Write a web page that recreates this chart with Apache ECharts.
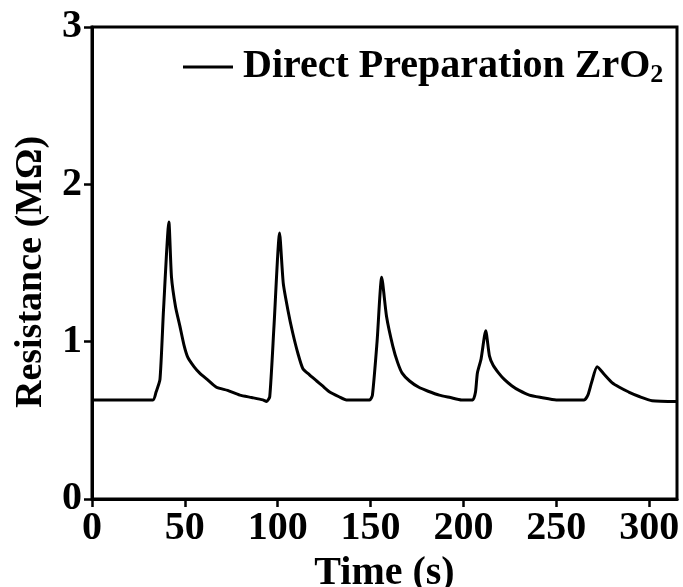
<!DOCTYPE html>
<html>
<head>
<meta charset="utf-8">
<script src="https://cdn.jsdelivr.net/npm/echarts@6/dist/echarts.min.js"></script>
<style>
  html, body { margin: 0; padding: 0; background: #fff; }
  #chart { width: 683px; height: 587px; }
</style>
</head>
<body>
<div id="chart"></div>
<script>
// time (s) and resistance (MOhm)
var timeS = [0, 32.8, 34.5, 36.6, 38.5, 41.4, 42.8, 45, 47.3, 49.5, 51.6, 55, 58, 62, 67, 73, 79.6, 86, 92, 94,
    95.7, 98, 101, 103, 105.5, 108, 111, 113.5, 117, 121, 124, 128, 133, 137, 149.5,
    151, 153.5, 156, 158.6, 162, 164.5, 167, 171, 176, 181, 187, 193, 199, 205,
    206.5, 207.5, 209.5, 212, 214, 216, 219, 222, 226, 230, 235.5, 242, 250, 265,
    267, 269, 272, 276, 280, 284, 289, 295, 301.6, 315];
var resistance = [0.63, 0.63, 0.68, 0.76, 1.2, 1.76, 1.41, 1.22, 1.10, 0.98, 0.90, 0.84, 0.80, 0.76, 0.71, 0.69, 0.66, 0.645, 0.63, 0.62,
    0.65, 1.1, 1.69, 1.37, 1.20, 1.06, 0.92, 0.83, 0.79, 0.75, 0.72, 0.68, 0.65, 0.63, 0.63,
    0.66, 1.0, 1.41, 1.16, 0.97, 0.87, 0.80, 0.75, 0.71, 0.685, 0.66, 0.645, 0.63, 0.63,
    0.68, 0.80, 0.89, 1.07, 0.91, 0.85, 0.80, 0.76, 0.72, 0.69, 0.66, 0.645, 0.63, 0.63,
    0.66, 0.74, 0.84, 0.79, 0.74, 0.71, 0.68, 0.65, 0.625, 0.62];
var seriesName = 'Direct Preparation ZrO2';

var points = timeS.map(function (t, i) { return [t, resistance[i]]; });

var fontFam = '"Liberation Serif", "Times New Roman", serif';

var myChart = echarts.init(document.getElementById('chart'));
myChart.setOption({
    animation: false,
    backgroundColor: '#fff',
    grid: {
        left: 92, right: 6, top: 27, bottom: 88,
        containLabel: false,
        outerBoundsMode: 'none', // v6: keep the grid where it is set
        show: true,
        borderColor: '#000',
        borderWidth: 3
    },
    legend: {
        left: 178,
        top: 42,
        icon: 'rect',
        itemWidth: 50,
        itemHeight: 3,
        data: [seriesName],
        formatter: function () {
            return '{a|Direct Preparation ZrO}{s|2}';
        },
        textStyle: {
            rich: {
                a: { fontFamily: fontFam, fontWeight: 'bold', fontSize: 40, color: '#000', padding: [0, 0, 0, 5] },
                s: { fontFamily: fontFam, fontWeight: 'bold', fontSize: 26, color: '#000', padding: [16, 0, 0, 0] }
            }
        }
    },
    xAxis: {
        type: 'value',
        min: 0,
        max: 315,
        interval: 50,
        name: 'Time (s)',
        nameLocation: 'middle',
        nameGap: 44,
        nameTextStyle: { fontFamily: fontFam, fontWeight: 'bold', fontSize: 40, color: '#000' },
        axisLine: { show: true, lineStyle: { color: '#000', width: 3 } },
        axisTick: { show: true, inside: false, length: 8, lineStyle: { color: '#000', width: 2.5 } },
        axisLabel: { fontFamily: fontFam, fontWeight: 'bold', fontSize: 40, color: '#000', margin: 10, showMaxLabel: false },
        splitLine: { show: false }
    },
    yAxis: {
        type: 'value',
        min: 0,
        max: 3,
        interval: 1,
        name: 'Resistance (MΩ)',
        nameLocation: 'middle',
        nameGap: 42,
        nameTextStyle: { fontFamily: fontFam, fontWeight: 'bold', fontSize: 38, color: '#000', padding: [0, 18, 0, 0] },
        axisLine: { show: true, lineStyle: { color: '#000', width: 3 } },
        axisTick: { show: true, inside: false, length: 8, lineStyle: { color: '#000', width: 2.5 } },
        axisLabel: { fontFamily: fontFam, fontWeight: 'bold', fontSize: 40, color: '#000', margin: 10 },
        splitLine: { show: false }
    },
    series: [{
        name: seriesName,
        type: 'line',
        data: points,
        symbol: 'none',
        smooth: 0.2,
        lineStyle: { color: '#000', width: 3 },
        itemStyle: { color: '#000' }
    }]
});
</script>
</body>
</html>
